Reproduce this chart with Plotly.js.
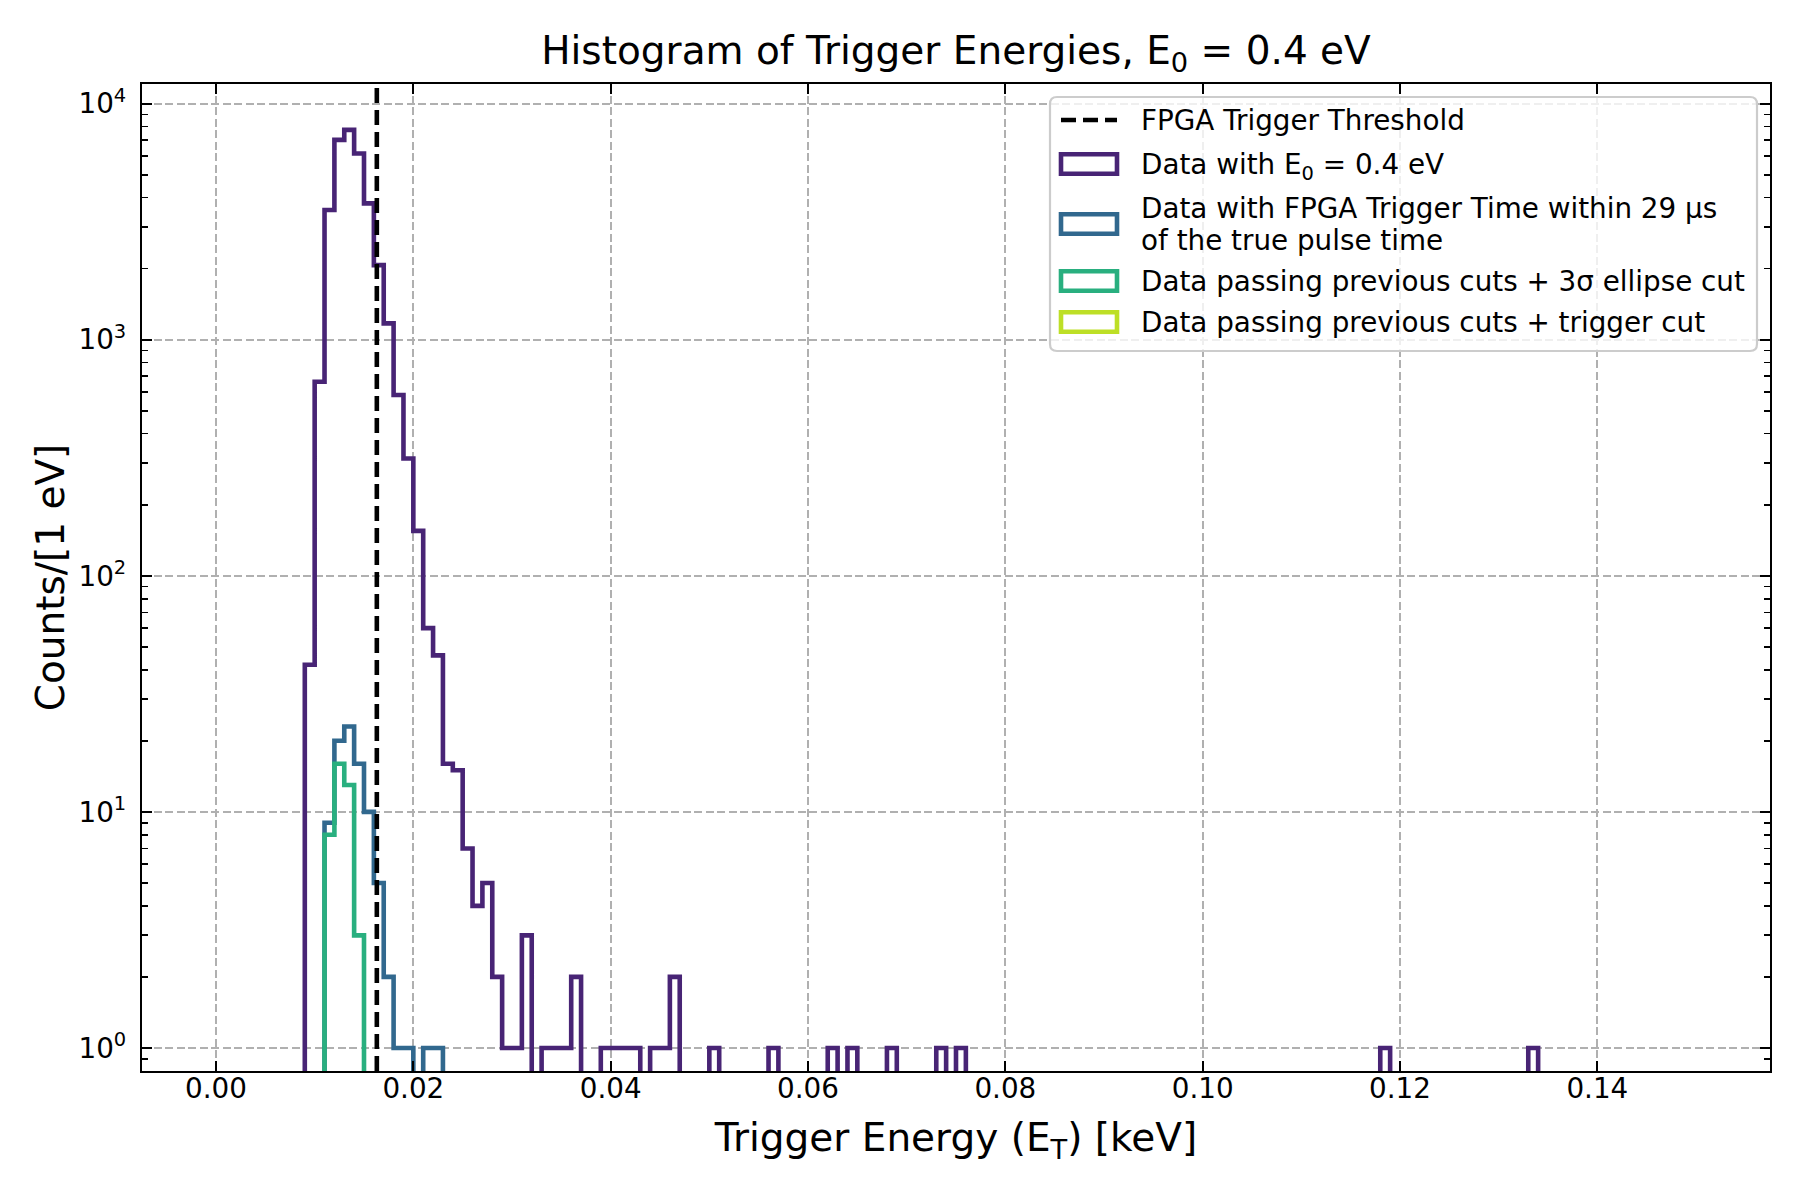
<!DOCTYPE html>
<html>
<head>
<meta charset="utf-8">
<script src="https://cdn.plot.ly/plotly-3.0.1.min.js"></script>
<style>
  body { margin: 0; background: #fff; }
  #chart { width: 1800px; height: 1200px; }
</style>
</head>
<body>
<div id="chart"></div>
<script>
// histogram bins: 1 eV wide, 0 to 0.150 keV
const binStart = 0.0;
const binWidth = 0.001;
const threshold = 0.0163;

// counts per bin (bins 0..149)
const countsAll = [
    0, 0, 0, 0, 0, 0, 0, 0, 0, 42,
    664, 3540, 7020, 7740, 6150, 3780, 2070, 1172, 583, 314,
    155, 60, 46, 16, 15, 7, 4, 5, 2, 1,
    1, 3, 0, 1, 1, 1, 2, 0, 0, 1,
    1, 1, 1, 0, 1, 1, 2, 0, 0, 0,
    1, 0, 0, 0, 0, 0, 1, 0, 0, 0,
    0, 0, 1, 0, 1, 0, 0, 0, 1, 0,
    0, 0, 0, 1, 0, 1, 0, 0, 0, 0,
    0, 0, 0, 0, 0, 0, 0, 0, 0, 0,
    0, 0, 0, 0, 0, 0, 0, 0, 0, 0,
    0, 0, 0, 0, 0, 0, 0, 0, 0, 0,
    0, 0, 0, 0, 0, 0, 0, 0, 1, 0,
    0, 0, 0, 0, 0, 0, 0, 0, 0, 0,
    0, 0, 0, 1, 0, 0, 0, 0, 0, 0,
    0, 0, 0, 0, 0, 0, 0, 0, 0, 0
];
// only the first bins are non-zero for the cut series, the rest are zero
const countsTime = [
    0, 0, 0, 0, 0, 0, 0, 0, 0, 0,
    0, 9, 20, 23, 16, 10, 5, 2, 1, 1,
    0, 1, 1
];
const countsEllipse = [
    0, 0, 0, 0, 0, 0, 0, 0, 0, 0,
    0, 8, 16, 13, 3
];
const countsTrigger = [];

const seriesNames = [
    'Data with E<sub>0</sub> = 0.4 eV',
    'Data with FPGA Trigger Time within 29 \u03bcs',
    'Data passing previous cuts + 3\u03c3 ellipse cut',
    'Data passing previous cuts + trigger cut'
];
const thresholdName = 'FPGA Trigger Threshold';
const colors = ['#482475', '#31688e', '#29af7f', '#bddf26'];

const nBins = countsAll.length;
const FLOOR = 1e-3; // zero counts go below the log axis

function stepOutline(counts) {
    // matplotlib-style 'step' outline built from the bin edges
    const xs = [binStart];
    const ys = [FLOOR];
    for (let i = 0; i < nBins; i++) {
        const c = counts[i] || 0;
        const y = c > 0 ? c : FLOOR;
        xs.push(binStart + i * binWidth, binStart + (i + 1) * binWidth);
        ys.push(y, y);
    }
    xs.push(binStart + nBins * binWidth);
    ys.push(FLOOR);
    return { x: xs, y: ys };
}

const lineW = 4.6;
const allSeries = [countsAll, countsTime, countsEllipse, countsTrigger];
const traces = allSeries.map((counts, k) => {
    const s = stepOutline(counts);
    return {
        type: 'scatter',
        mode: 'lines',
        x: s.x,
        y: s.y,
        name: seriesNames[k],
        line: { color: colors[k], width: lineW },
        hoverinfo: 'skip',
        showlegend: false
    };
});

// plot area in pixels, used for the hand-built legend box
const W = 1800, H = 1200;
const M = { l: 142, r: 30, t: 84, b: 129 };
const pw = W - M.l - M.r;
const ph = H - M.t - M.b;
const px = x => (x - M.l) / pw;
const py = y => (H - M.b - y) / ph;

function roundedBox(x0, y0, x1, y1, r) {
    const X0 = px(x0), X1 = px(x1), Y0 = py(y0), Y1 = py(y1);
    const rx = r / pw, ry = r / ph;
    return 'M' + (X0 + rx) + ',' + Y0 +
        ' L' + (X1 - rx) + ',' + Y0 +
        ' Q' + X1 + ',' + Y0 + ' ' + X1 + ',' + (Y0 - ry) +
        ' L' + X1 + ',' + (Y1 + ry) +
        ' Q' + X1 + ',' + Y1 + ' ' + (X1 - rx) + ',' + Y1 +
        ' L' + (X0 + rx) + ',' + Y1 +
        ' Q' + X0 + ',' + Y1 + ' ' + X0 + ',' + (Y1 + ry) +
        ' L' + X0 + ',' + (Y0 - ry) +
        ' Q' + X0 + ',' + Y0 + ' ' + (X0 + rx) + ',' + Y0 + ' Z';
}

const font = 'DejaVu Sans';
const legFont = { family: font, size: 27.8, color: 'black' };
const handleX0 = 1061, handleX1 = 1117, textX = 1139;
const rowY = [120, 164, 224, 281, 322];

const shapes = [
    {
        type: 'line', xref: 'x', yref: 'paper',
        x0: threshold, x1: threshold, y0: 0, y1: 1,
        line: { color: 'black', width: lineW, dash: '15px,7px' },
        layer: 'above'
    },
    {
        type: 'path', xref: 'paper', yref: 'paper',
        path: roundedBox(1050, 97, 1757, 351, 7),
        fillcolor: 'rgba(255,255,255,0.8)',
        line: { color: '#cccccc', width: 2.2 },
        layer: 'above'
    },
    {
        type: 'line', xref: 'paper', yref: 'paper',
        x0: px(handleX0), x1: px(handleX1), y0: py(rowY[0]), y1: py(rowY[0]),
        line: { color: 'black', width: lineW, dash: '15px,7px' },
        layer: 'above'
    }
];
for (let k = 0; k < 4; k++) {
    const cy = rowY[k + 1];
    shapes.push({
        type: 'rect', xref: 'paper', yref: 'paper',
        x0: px(handleX0), x1: px(handleX1),
        y0: py(cy - 9.75), y1: py(cy + 9.75),
        fillcolor: 'rgba(0,0,0,0)',
        line: { color: colors[k], width: lineW },
        layer: 'above'
    });
}

const legendTexts = [
    [thresholdName, 120],
    [seriesNames[0], 166],
    [seriesNames[1], 208],
    ['of the true pulse time', 240],
    [seriesNames[2], 281],
    [seriesNames[3], 322]
];
const annotations = legendTexts.map(([t, y]) => ({
    xref: 'paper', yref: 'paper',
    x: px(textX), y: py(y),
    xanchor: 'left', yanchor: 'middle',
    text: t, showarrow: false,
    font: legFont
}));

const axisCommon = {
    ticks: 'inside',
    ticklen: 9.7,
    tickwidth: 2.2,
    tickcolor: 'black',
    showline: true,
    linecolor: 'black',
    linewidth: 2.2,
    mirror: 'allticks',
    showgrid: true,
    gridcolor: '#b0b0b0',
    gridwidth: 1.8,
    griddash: '8px,3.5px',
    zeroline: false,
    automargin: false,
    tickfont: { family: font, size: 27.8, color: 'black' }
};

const layout = {
    width: W,
    height: H,
    margin: M,
    paper_bgcolor: 'white',
    plot_bgcolor: 'white',
    font: { family: font, color: 'black' },
    showlegend: false,
    title: {
        text: 'Histogram of Trigger Energies, E<sub>0</sub> = 0.4 eV',
        font: { family: font, size: 39, color: 'black' },
        x: 0.5, xref: 'paper', xanchor: 'center',
        y: 1 - 50 / H, yref: 'container', yanchor: 'middle'
    },
    xaxis: Object.assign({}, axisCommon, {
        range: [-0.0075, 0.1575],
        tickmode: 'linear',
        tick0: 0,
        dtick: 0.02,
        tickformat: '.2f',
        ticklabelstandoff: -9,
        title: {
            text: 'Trigger Energy (E<sub>T</sub>) [keV]',
            font: { family: font, size: 39, color: 'black' },
            standoff: 20
        }
    }),
    yaxis: Object.assign({}, axisCommon, {
        type: 'log',
        range: [-0.0975, 4.083],
        tickmode: 'array',
        tickvals: [1, 10, 100, 1000, 10000],
        ticktext: ['10<sup>0</sup>', '10<sup>1</sup>', '10<sup>2</sup>', '10<sup>3</sup>', '10<sup>4</sup>'],
        ticklabelstandoff: 8,
        minor: {
            ticks: 'inside',
            ticklen: 5.6,
            tickwidth: 1.7,
            tickcolor: 'black',
            dtick: 'D1',
            showgrid: false
        },
        title: {
            text: 'Counts/[1 eV]',
            font: { family: font, size: 39, color: 'black' },
            standoff: 2
        }
    }),
    shapes: shapes,
    annotations: annotations
};

Plotly.newPlot('chart', traces, layout, { staticPlot: true, displayModeBar: false });
</script>
</body>
</html>
